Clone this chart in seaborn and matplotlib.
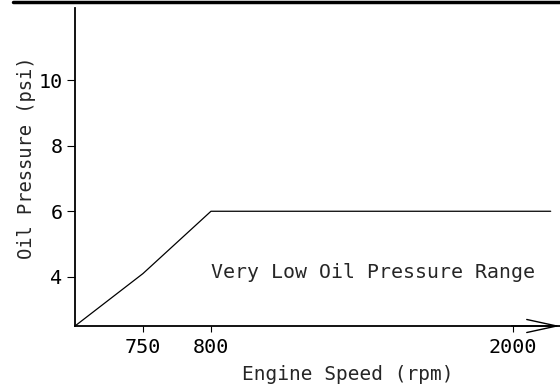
import numpy as np
import pandas as pd
import matplotlib
matplotlib.use("Agg")
import matplotlib.pyplot as plt
from matplotlib.lines import Line2D
import seaborn as sns

# ===============================
# DATA
# ===============================
engine_speed = [700, 750, 800, 2150]      # rpm
oil_pressure = [2.5, 4.1, 6.0, 6.0]       # psi
x_ticks = [750, 800, 2000]
y_ticks = [4, 6, 8, 10]
region_label = "Very Low Oil Pressure Range"

df = pd.DataFrame({"rpm": engine_speed, "psi": oil_pressure})

# ===============================
# STYLE
# ===============================
sns.set_style("ticks")
plt.rcParams["font.family"] = ["DejaVu Sans Mono"]

# schematic x axis: the low-speed part is stretched
def fwd(x):
    x = np.asarray(x, dtype=float)
    return np.where(x < 800, (x - 800) * 1.36, (x - 800) * 0.2517)

def inv(u):
    u = np.asarray(u, dtype=float)
    return np.where(u < 0, u / 1.36 + 800, u / 0.2517 + 800)

fig = plt.figure(figsize=(5.6, 3.87), dpi=100)
ax = fig.add_axes([75 / 560, 61 / 387, 485 / 560, 318 / 387])
ax.set_xscale("function", functions=(fwd, inv))

sns.lineplot(data=df, x="rpm", y="psi", ax=ax, color="black", lw=0.9,
             sort=False, estimator=None)

ax.set_xlim(700, 2187)
ax.set_ylim(2.5, 12.2)
ax.set_xticks(x_ticks)
ax.set_yticks(y_ticks)
ax.minorticks_off()

for s in ["top", "right"]:
    ax.spines[s].set_visible(False)
for s in ["left", "bottom"]:
    ax.spines[s].set_linewidth(1.3)
    ax.spines[s].set_color("black")

ax.tick_params(axis="y", length=6, width=0.8, pad=3, labelsize=14.5, colors="black")
ax.tick_params(axis="x", length=4.5, width=0.8, pad=4, labelsize=14.5, colors="black")

ax.set_xlabel("Engine Speed (rpm)", fontsize=14)
ax.set_ylabel("Oil Pressure (psi)", fontsize=13.5)
ax.xaxis.set_label_coords(0.563, -0.154)
ax.xaxis.label.set_va("center")
ax.yaxis.set_label_coords(-0.099, 0.528)
ax.yaxis.label.set_va("center")

ax.text(801, 3.95, region_label, fontsize=14.3, ha="left", va="baseline")

# arrow head at end of x axis
ax.annotate("", xy=(1, 0), xytext=(0.9, 0), xycoords="axes fraction",
            arrowprops=dict(arrowstyle="->,head_length=21.6,head_width=4.7",
                            mutation_scale=1, lw=1.0, color="black",
                            shrinkA=0, shrinkB=0),
            annotation_clip=False)

# thick rule along the top
fig.add_artist(Line2D([13 / 560, 1], [0.996, 0.996], color="black", lw=2.5,
                      transform=fig.transFigure))

plt.savefig("out.png", dpi=100)
plt.close()
